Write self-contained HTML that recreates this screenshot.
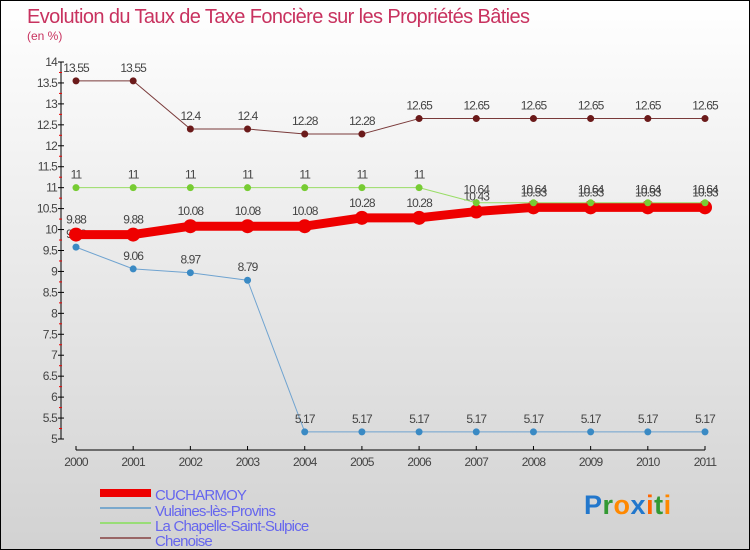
<!DOCTYPE html>
<html><head><meta charset="utf-8"><style>
body{margin:0;}
svg{display:block;font-family:"Liberation Sans",sans-serif;}
</style></head><body>
<svg id="chart" width="750" height="550" xmlns="http://www.w3.org/2000/svg">
<defs><linearGradient id="bg" x1="0" y1="0" x2="0" y2="1"><stop offset="0" stop-color="#ffffff"/><stop offset="1" stop-color="#d2d2d2"/></linearGradient></defs>
<rect x="0.5" y="0.5" width="749" height="549" fill="url(#bg)" stroke="#000"/>
<text x="27" y="23" font-size="20" fill="#c8325f" letter-spacing="-0.6">Evolution du Taux de Taxe Foncière sur les Propriétés Bâties</text>
<text x="27" y="40" font-size="12" fill="#c8325f">(en %)</text>
<g id="axes"></g>
<g id="series"></g>
<g id="legend">
<rect x="100" y="489" width="51" height="8" fill="#ee0000"/>
<text x="155" y="500" font-size="15" fill="#6666ee" letter-spacing="-0.8">CUCHARMOY</text>
<line x1="100" y1="508" x2="151" y2="508" stroke="#7aa8cc" stroke-width="2"/>
<text x="155" y="516" font-size="15" fill="#6666ee" letter-spacing="-0.8">Vulaines-lès-Provins</text>
<line x1="100" y1="523" x2="151" y2="523" stroke="#99dd77" stroke-width="2"/>
<text x="155" y="531" font-size="15" fill="#6666ee" letter-spacing="-0.8">La Chapelle-Saint-Sulpice</text>
<line x1="100" y1="538" x2="151" y2="538" stroke="#996666" stroke-width="2"/>
<text x="155" y="546" font-size="15" fill="#6666ee" letter-spacing="-0.8">Chenoise</text>
</g>
<text x="584" y="514" font-size="27" font-weight="bold" letter-spacing="0.5"><tspan fill="#2277cc">P</tspan><tspan fill="#339933">r</tspan><tspan fill="#ff8800">o</tspan><tspan fill="#2277cc">x</tspan><tspan fill="#ff6600">i</tspan><tspan fill="#339933">t</tspan><tspan fill="#ff8800">i</tspan></text>
</svg>
<script>
const years = [2000,2001,2002,2003,2004,2005,2006,2007,2008,2009,2010,2011];
const cucharmoy = [9.88,9.88,10.08,10.08,10.08,10.28,10.28,10.43,10.53,10.53,10.53,10.53];
const vulaines = [9.58,9.06,8.97,8.79,5.17,5.17,5.17,5.17,5.17,5.17,5.17,5.17];
const chapelle = [11,11,11,11,11,11,11,10.64,10.64,10.64,10.64,10.64];
const chenoise = [13.55,13.55,12.4,12.4,12.28,12.28,12.65,12.65,12.65,12.65,12.65,12.65];
const yTicks = [5,5.5,6,6.5,7,7.5,8,8.5,9,9.5,10,10.5,11,11.5,12,12.5,13,13.5,14];
const NS="http://www.w3.org/2000/svg";
const xs = i => 76 + i*(705-76)/(years.length-1);
const ys = v => 439 - (v-5)*(439-62)/9;
function mk(tag, attrs, parent){const e=document.createElementNS(NS,tag);for(const k in attrs)e.setAttribute(k,attrs[k]);parent.appendChild(e);return e;}
const ax=document.getElementById('axes');
let yl=mk('line',{x1:61,y1:62,x2:61,y2:439,stroke:'#000'},ax);


yTicks.forEach(t=>{
  const y=ys(t);
  mk('line',{x1:58,y1:y,x2:64,y2:y,stroke:'#000'},ax);
  if(t<14){const m=mk('line',{x1:59,y1:ys(t+0.25),x2:62,y2:ys(t+0.25),stroke:'#e00'},ax);}
  const tx=mk('text',{x:57,y:y+4,'font-size':12,fill:'#444','text-anchor':'end','letter-spacing':'-0.8'},ax);
  tx.textContent=String(t);
  
  
});
let xl=mk('line',{x1:76,y1:450,x2:705,y2:450,stroke:'#000'},ax);


years.forEach((yr,i)=>{
  mk('line',{x1:xs(i),y1:446,x2:xs(i),y2:450,stroke:'#000'},ax);
  const tx=mk('text',{x:xs(i),y:466,'font-size':12,fill:'#444','text-anchor':'middle','letter-spacing':'-0.8'},ax);
  tx.textContent=String(yr);
  
  
});
const sg=document.getElementById('series');
function draw(vals,name,color,dotFill,w,r,labelDy){
  const g=mk('g',{},sg);
  
  
  const pl=mk('polyline',{points:vals.map((v,i)=>xs(i)+','+ys(v)).join(' '),fill:'none',stroke:color,'stroke-width':w,'stroke-linejoin':'round'},g);
  
  
  vals.forEach((v,i)=>{
    const c=mk('circle',{cx:xs(i),cy:ys(v),r:r,fill:dotFill},g);
    
    
    const t=mk('text',{x:xs(i),y:ys(v)+labelDy,'font-size':12,fill:'#444','text-anchor':'middle','letter-spacing':'-0.9'},g);
    t.textContent=String(v);
    
    
  });
}
draw(chenoise,'chenoise','#7a3a3a','#6b1a1a',1,3.5,-9);
draw(vulaines,'vulaines','#6fa3d0','#3a8ac4',1,3.5,-9);
draw(cucharmoy,'cucharmoy','#ee0000','#ee0000',9,7,-11);
draw(chapelle,'chapelle','#99dd66','#77cc33',1,3.5,-9);
</script>
</body></html>
